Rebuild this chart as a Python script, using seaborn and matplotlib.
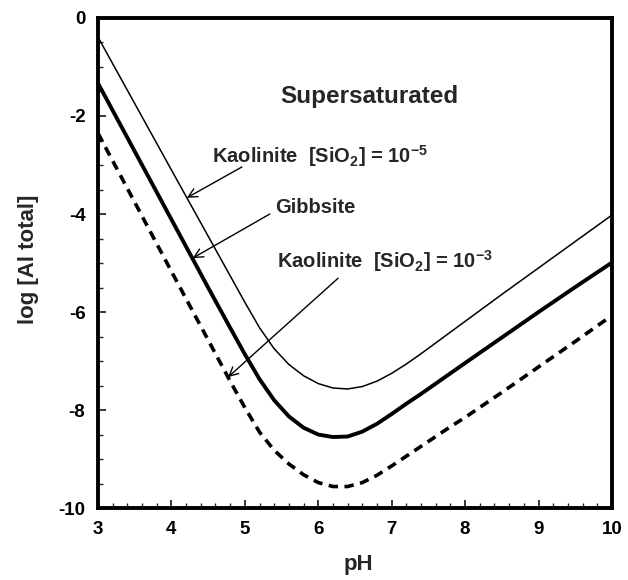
import matplotlib
matplotlib.use("Agg")
import matplotlib.pyplot as plt
from matplotlib.ticker import MultipleLocator
import pandas as pd
import seaborn as sns

# pH grid shared by the three solubility curves
ph = [3.0, 3.5, 4.0, 4.5, 4.8, 5.0, 5.2, 5.4, 5.6, 5.8, 6.0, 6.2, 6.4, 6.6,
      6.8, 7.0, 7.2, 7.4, 7.6, 7.8, 8.0, 8.5, 9.0, 9.5, 10.0]

# log total dissolved Al in equilibrium with each solid
kaolinite_si_1e5 = [-0.39, -1.745, -3.10, -4.45, -5.26, -5.80, -6.32, -6.75, -7.07,
                    -7.30, -7.46, -7.55, -7.57, -7.52, -7.41, -7.25, -7.06, -6.85,
                    -6.63, -6.41, -6.19, -5.64, -5.10, -4.56, -4.02]
gibbsite = [-1.33, -2.72, -4.11, -5.50, -6.32, -6.86, -7.37, -7.80, -8.13,
            -8.36, -8.50, -8.55, -8.54, -8.44, -8.28, -8.08, -7.87, -7.67,
            -7.46, -7.25, -7.04, -6.52, -6.00, -5.49, -4.99]
kaolinite_si_1e3 = [-2.35, -3.76, -5.17, -6.57, -7.41, -7.95, -8.45, -8.82, -9.10,
                    -9.32, -9.48, -9.56, -9.56, -9.48, -9.33, -9.14, -8.94, -8.74,
                    -8.54, -8.34, -8.15, -7.64, -7.12, -6.60, -6.07]

x_ticks = [3, 4, 5, 6, 7, 8, 9, 10]
x_tick_labels = ["3", "4", "5", "6", "7", "8", "9", "10"]
y_ticks = [-10, -8, -6, -4, -2, 0]
y_tick_labels = ["-10", "-8", "-6", "-4", "-2", "0"]

sns.set_theme(style="ticks")
plt.rcParams["font.family"] = ["Liberation Sans", "DejaVu Sans"]
plt.rcParams["font.weight"] = "bold"
plt.rcParams["mathtext.fontset"] = "custom"
plt.rcParams["mathtext.rm"] = "Liberation Sans:bold"
plt.rcParams["mathtext.bf"] = "Liberation Sans:bold"
plt.rcParams["axes.unicode_minus"] = False

df = pd.DataFrame({"pH": ph, "k5": kaolinite_si_1e5, "gib": gibbsite,
                   "k3": kaolinite_si_1e3})

fig = plt.figure(figsize=(6.28, 5.8), dpi=100)
ax = fig.add_axes([0.156, 0.124, 0.8185, 0.845])

sns.lineplot(data=df, x="pH", y="k5", ax=ax, color="black", linewidth=1.1)
sns.lineplot(data=df, x="pH", y="gib", ax=ax, color="black", linewidth=2.8)
sns.lineplot(data=df, x="pH", y="k3", ax=ax, color="black", linewidth=2.6,
             linestyle=(0, (2.6, 1.8)))

ax.set_xlim(3, 10)
ax.set_ylim(-10, 0)
ax.set_xticks(x_ticks, x_tick_labels)
ax.set_yticks(y_ticks, y_tick_labels)
ax.xaxis.set_minor_locator(MultipleLocator(0.2))
ax.yaxis.set_minor_locator(MultipleLocator(0.5))
ax.tick_params(which="major", direction="in", length=6, width=1.1,
               labelsize=13.5, pad=9, colors="black")
ax.tick_params(which="minor", direction="in", length=3.5, width=1.0)
for sp in ax.spines.values():
    sp.set_linewidth(2.8)
    sp.set_color("black")
    sp.set_visible(True)

ax.set_xlabel("pH", fontsize=16, fontweight="bold", va="center")
ax.set_ylabel("log [Al total]", fontsize=16, fontweight="bold", va="center")
ax.xaxis.set_label_coords(0.506, -0.116)
ax.yaxis.set_label_coords(-0.136, 0.508)

ax.text(6.69, -1.73, "Supersaturated", fontsize=17.5, fontweight="bold",
        ha="center", va="baseline")
ax.text(4.55, -2.96, r"Kaolinite  [SiO$_\mathbf{2}$] = 10$^\mathbf{-5}$",
        fontsize=14.5, fontweight="bold", ha="left", va="baseline")
ax.text(5.41, -3.98, "Gibbsite", fontsize=14.5, fontweight="bold",
        ha="left", va="baseline")
ax.text(5.44, -5.10, r"Kaolinite  [SiO$_\mathbf{2}$] = 10$^\mathbf{-3}$",
        fontsize=14.5, fontweight="bold", ha="left", va="baseline")

# leader arrows from each label to its curve
arrow_kw = dict(arrowstyle="->", lw=1.0, color="black", mutation_scale=16,
                shrinkA=0, shrinkB=0)
ax.annotate("", xy=(4.21, -3.67), xytext=(4.96, -3.04), arrowprops=arrow_kw)
ax.annotate("", xy=(4.29, -4.90), xytext=(5.34, -4.00), arrowprops=arrow_kw)
ax.annotate("", xy=(4.77, -7.33), xytext=(6.27, -5.31), arrowprops=arrow_kw)

fig.savefig("out.png", dpi=100)
